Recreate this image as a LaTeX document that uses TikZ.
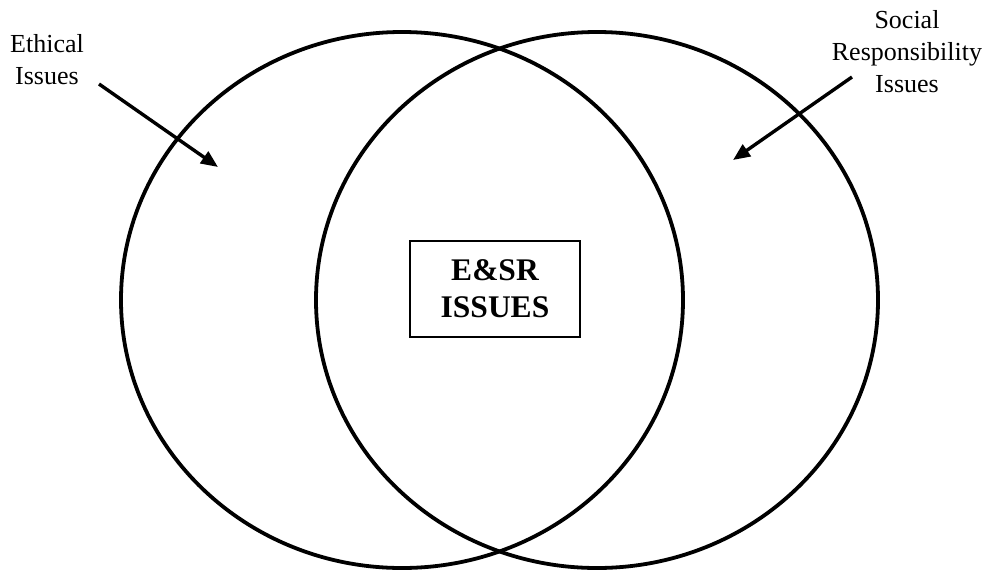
\documentclass[tikz,border=0pt]{standalone}
\usepackage{fontspec}
\setmainfont{Liberation Serif}
\usetikzlibrary{arrows.meta}
\tikzset{
  venn/.style={draw=black, line width=3.8pt},
  label/.style={align=center, inner sep=0pt, font=\fontsize{26}{32}\selectfont},
  pointer/.style={line width=3.4pt, -{Triangle[length=17pt,width=14pt]}},
  centerbox/.style={draw=black, line width=1.8pt, minimum width=170pt, minimum height=96pt,
    align=center, inner sep=0pt, font=\bfseries\fontsize{31.5}{37}\selectfont}
}
\begin{document}
\begin{tikzpicture}[x=1pt, y=-1pt]
\useasboundingbox (0,0) rectangle (993,571);
\draw[venn] (402,300) ellipse [x radius=281, y radius=268];
\draw[venn] (597,300) ellipse [x radius=281, y radius=268];
\node[centerbox] (core) at (495,289) {E\&SR\\ISSUES};
\node[label] (eth) at (47,60) {Ethical\\Issues};
\node[label] (soc) at (907,52) {Social\\Responsibility\\Issues};
\coordinate (ethtail) at (99,84);
\coordinate (ethtip) at (218,167);
\coordinate (soctail) at (852,77);
\coordinate (soctip) at (733,160);
\draw[pointer] (ethtail) -- (ethtip);
\draw[pointer] (soctail) -- (soctip);
\end{tikzpicture}
\end{document}
